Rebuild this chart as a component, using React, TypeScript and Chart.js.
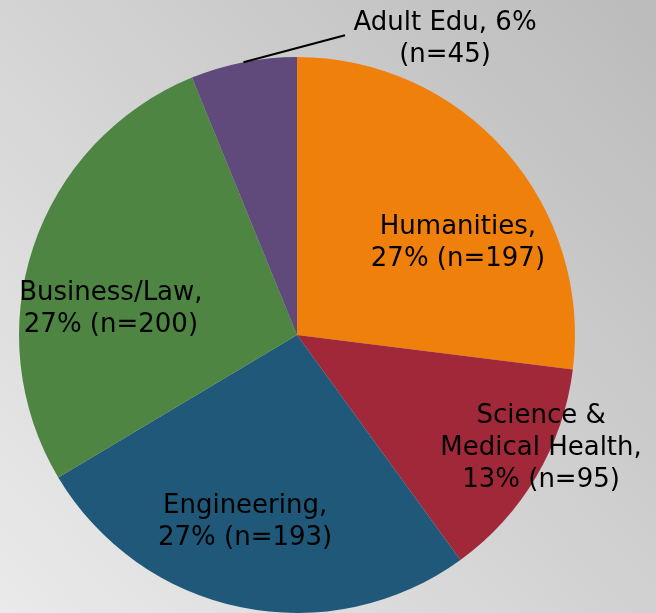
import React, { useEffect, useRef } from "react";
import { Chart, registerables } from "chart.js";

Chart.register(...registerables);

// ---- data ----
const categories = ["Humanities", "Science & Medical Health", "Engineering", "Business/Law", "Adult Edu"];
const counts = [197, 95, 193, 200, 45];
const percents = ["27%", "13%", "27%", "27%", "6%"];
const sliceColors = ["#F0800C", "#A12838", "#1F5879", "#4E8542", "#604A7B"];

// label text built from the data
const labelLines: string[][] = [
  [`${categories[0]},`, `${percents[0]} (n=${counts[0]})`],
  ["Science &", "Medical Health,", `${percents[1]} (n=${counts[1]})`],
  [`${categories[2]},`, `${percents[2]} (n=${counts[2]})`],
  [`${categories[3]},`, `${percents[3]} (n=${counts[3]})`],
  [`${categories[4]}, ${percents[4]}`, `(n=${counts[4]})`],
];

// ---- layout / style ----
const FONT_SIZE = 26;
const LINE_H = 32;
const CAP = FONT_SIZE * 0.73;
type Placement = { offsetDeg?: number; frac?: number; leader?: [number, number]; text?: [number, number] };
const placements: Placement[] = [
  { offsetDeg: 10.9, frac: 0.672 },
  { offsetDeg: -6.3, frac: 0.963 },
  { offsetDeg: 4.1, frac: 0.69 },
  { offsetDeg: -9.9, frac: 0.677 },
  { leader: [101.5, -27], text: [100, 1] },
];

const backgroundPlugin = {
  id: "bgGradient",
  beforeDraw(chart: any) {
    const { ctx, width, height } = chart;
    ctx.save();
    const g = ctx.createLinearGradient(0, height, width, 0);
    g.addColorStop(0, "#eaeaea");
    g.addColorStop(1, "#bbbbbb");
    ctx.fillStyle = g;
    ctx.fillRect(0, 0, width, height);
    ctx.restore();
  },
};

const labelPlugin = {
  id: "sliceLabels",
  afterDatasetsDraw(chart: any) {
    const ctx = chart.ctx;
    const meta = chart.getDatasetMeta(0);
    ctx.save();
    ctx.font = `${FONT_SIZE}px "DejaVu Sans"`;
    ctx.fillStyle = "#000";
    ctx.textAlign = "center";
    ctx.textBaseline = "alphabetic";
    meta.data.forEach((arc: any, i: number) => {
      const { x, y, startAngle, endAngle, outerRadius } = arc.getProps(
        ["x", "y", "startAngle", "endAngle", "outerRadius"],
        true
      );
      const p = placements[i];
      const mid = (startAngle + endAngle) / 2;
      let cx: number, cy: number;
      if (p.leader) {
        const ex = x + Math.cos(mid) * outerRadius;
        const ey = y + Math.sin(mid) * outerRadius;
        const lx = ex + p.leader[0];
        const ly = ey + p.leader[1];
        ctx.beginPath();
        ctx.strokeStyle = "#000";
        ctx.lineWidth = 2;
        ctx.moveTo(ex, ey);
        ctx.lineTo(lx, ly);
        ctx.stroke();
        cx = lx + (p.text ? p.text[0] : 0);
        cy = ly + (p.text ? p.text[1] : 0);
      } else {
        const a = mid + ((p.offsetDeg || 0) * Math.PI) / 180;
        cx = x + Math.cos(a) * outerRadius * (p.frac || 0.6);
        cy = y + Math.sin(a) * outerRadius * (p.frac || 0.6);
      }
      const lines = labelLines[i];
      const n = lines.length;
      lines.forEach((t, k) => {
        const by = cy + CAP / 2 + (k - (n - 1) / 2) * LINE_H;
        ctx.fillText(t, cx, by);
      });
    });
    ctx.restore();
  },
};

export default function App() {
  const ref = useRef<HTMLCanvasElement | null>(null);
  useEffect(() => {
    document.body.style.margin = "0";
    document.body.style.overflow = "hidden";
    const canvas = ref.current;
    if (!canvas) return;
    const chart = new Chart(canvas, {
      type: "pie",
      data: {
        labels: categories,
        datasets: [
          {
            data: counts,
            backgroundColor: sliceColors,
            borderWidth: 0,
          },
        ],
      },
      options: {
        responsive: false,
        maintainAspectRatio: false,
        animation: false,
        layout: { padding: { left: 19, right: 81, top: 57, bottom: 0 } },
        plugins: {
          legend: { display: false },
          tooltip: { enabled: false },
          title: { display: false },
        },
      },
      plugins: [backgroundPlugin, labelPlugin],
    });
    return () => chart.destroy();
  }, []);
  return <canvas ref={ref} width={656} height={613} style={{ display: "block" }} />;
}
